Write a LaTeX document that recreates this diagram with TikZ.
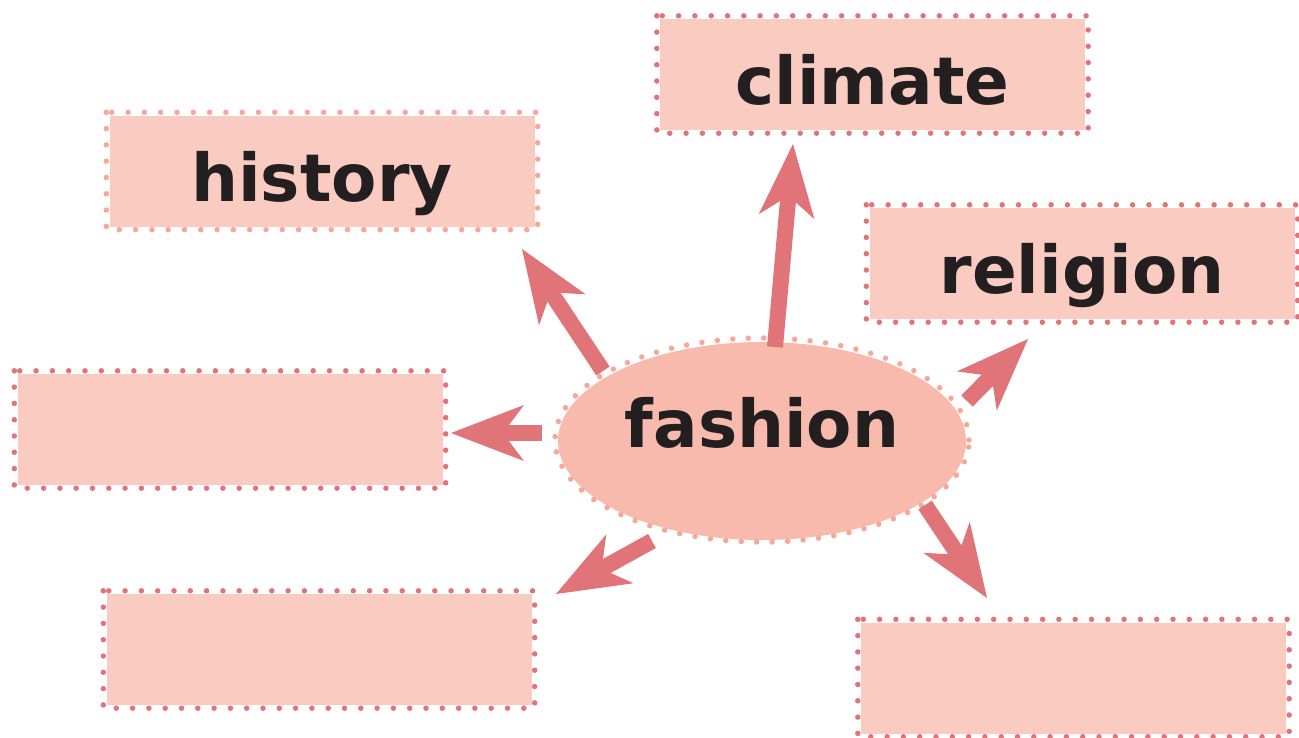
\documentclass[tikz,border=0pt]{standalone}
\usepackage{fontspec}
\setmainfont{DejaVu Sans}
\usetikzlibrary{arrows.meta,shapes.geometric,calc,decorations.markings}

\definecolor{boxfill}{HTML}{FACBC0}
\definecolor{ovalfill}{HTML}{F8BAAD}
\definecolor{rosedot}{HTML}{E07479}
\definecolor{salmondot}{HTML}{F7A697}
\definecolor{arrowred}{HTML}{E07479}
\definecolor{ink}{HTML}{231F20}

\begin{document}
\begin{tikzpicture}[x=1pt,y=-1pt,
  labelfont/.style={font=\fontsize{66pt}{66pt}\selectfont\bfseries, text=ink},
  topic/.style={rectangle, fill=boxfill, minimum width=425pt, minimum height=111pt,
    inner sep=0pt, text height=60pt, text depth=0pt, labelfont},
  hub/.style={ellipse, fill=ovalfill, minimum width=408pt, minimum height=198pt,
    inner sep=0pt, text height=56pt, text depth=44pt, labelfont},
  % a row of round dots laid along a path: #1 apart, in colour #2
  dotrow/.style 2 args={decorate, decoration={markings,
    mark=between positions 0 and 1 step #1 with {\fill[#2] circle (2.75pt);}}},
  spoke/.style={draw=arrowred, line width=16pt,
    -{Stealth[length=73pt, width=56pt, inset=21pt, line width=0pt]}}
]
\useasboundingbox (0,0) rectangle (1299,737);

% topic boxes
\node[topic] (history) at (322,171)   {history};
\node[topic] (climate) at (872.5,74.5) {climate};
\node[topic] (religion) at (1082,263.5) {religion};
\node[topic] (blankW)  at (230,429.5)  {};
\node[topic] (blankSW) at (319,649.5)  {};
\node[topic] (blankSE) at (1073.5,678) {};

% dotted frames just outside the boxes
\path[dotrow={16.3pt}{salmondot}] ([shift={(-3pt,3pt)}]history.north west) rectangle ([shift={(3pt,-3pt)}]history.south east);
\foreach \b in {climate,religion,blankW,blankSW,blankSE}
  \path[dotrow={16.3pt}{rosedot}] ([shift={(-3pt,3pt)}]\b.north west) rectangle ([shift={(3pt,-3pt)}]\b.south east);

% central oval
\node[hub] (fashion) at (762,441) {fashion};
\path[dotrow={15.5pt}{salmondot}] ([yshift=1pt]fashion.center) ellipse [x radius=207pt, y radius=102pt];

% arrow start points on the oval rim and arrow tips
\coordinate (hS)  at ($(fashion.center)+(-159,-70)$);
\coordinate (cS)  at ($(fashion.center)+(13,-94)$);
\coordinate (rS)  at ($(fashion.center)+(205,-40)$);
\coordinate (wS)  at ($(fashion.center)+(-220,-8)$);
\coordinate (swS) at ($(fashion.center)+(-110,100)$);
\coordinate (seS) at ($(fashion.center)+(163,64)$);

\coordinate (hT)  at (522,249);
\coordinate (cT)  at (793,144);
\coordinate (rT)  at (1028,339);
\coordinate (wT)  at (451,433);
\coordinate (swT) at (556,594);
\coordinate (seT) at (987,598);

\draw[spoke] (hS) -- (hT);
\draw[spoke] (cS) -- (cT);
\draw[spoke] (rS) -- (rT);
\draw[spoke] (wS) -- (wT);
\draw[spoke] (swS) -- (swT);
\draw[spoke] (seS) -- (seT);
\end{tikzpicture}
\end{document}
